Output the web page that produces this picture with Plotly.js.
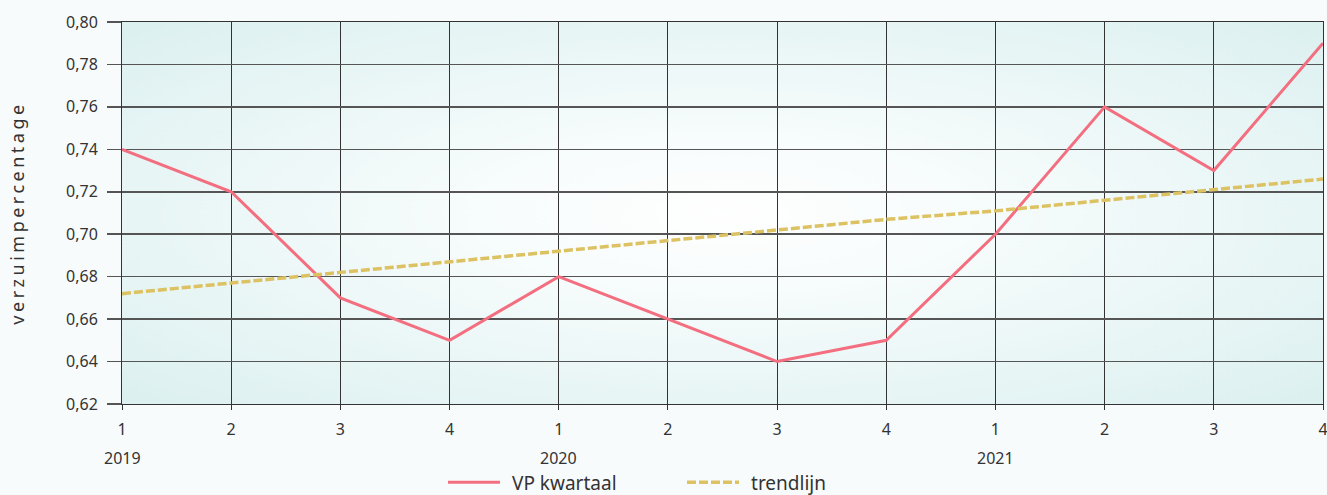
<!DOCTYPE html>
<html>
<head>
<meta charset="utf-8">
<script src="https://cdn.plot.ly/plotly-3.0.1.min.js"></script>
<style>
  html, body { margin: 0; padding: 0; background: #f8fbfc; }
  #chart { width: 1327px; height: 495px; }
  .ytitle { letter-spacing: 3.5px; }
</style>
</head>
<body>
<div id="chart"></div>
<script>
// ---- data ----
const quarters = ["1","2","3","4","1","2","3","4","1","2","3","4"];
const years = ["2019", "2020", "2021"];
const yearTickIndex = [0, 4, 8];
const vpKwartaal = [0.74, 0.72, 0.67, 0.65, 0.68, 0.66, 0.64, 0.65, 0.70, 0.76, 0.73, 0.79];
const trendlijn = [0.672, 0.677, 0.682, 0.687, 0.692, 0.697, 0.702, 0.707, 0.711, 0.716, 0.721, 0.726];
const seriesNames = ["VP kwartaal", "trendlijn"];
const yTitle = "verzuimpercentage";

const xIdx = quarters.map((_, i) => i);

// radial gradient background image for plot area
function gradientImage() {
  const c = document.createElement('canvas');
  c.width = 400; c.height = 400;
  const ctx = c.getContext('2d');
  const g = ctx.createRadialGradient(200, 200, 0, 200, 200, 283);
  g.addColorStop(0, '#ffffff');
  g.addColorStop(0.3, '#f7fcfc');
  g.addColorStop(1, '#dcf0f0');
  ctx.fillStyle = g;
  ctx.fillRect(0, 0, 400, 400);
  return c.toDataURL('image/png');
}

const font = "Noto Sans, Open Sans, sans-serif";

const traces = [
  {
    x: xIdx, y: vpKwartaal, name: seriesNames[0], type: 'scatter', mode: 'lines',
    line: { color: '#f36f80', width: 3 }
  },
  {
    x: xIdx, y: trendlijn, name: seriesNames[1], type: 'scatter', mode: 'lines',
    line: { color: '#dcc262', width: 3.5, dash: '9px,3px' }
  }
];

const annotations = years.map((yr, i) => ({
  x: yearTickIndex[i], xref: 'x', y: 0, yref: 'paper',
  yanchor: 'middle', yshift: -54, text: yr, showarrow: false,
  font: { family: font, size: 16, color: '#333' }
}));

const layout = {
  width: 1327, height: 495,
  margin: { l: 122, r: 4, t: 22, b: 91, autoexpand: false },
  paper_bgcolor: '#f8fbfc',
  plot_bgcolor: 'rgba(0,0,0,0)',
  separators: ', ',
  font: { family: font, color: '#333' },
  showlegend: true,
  legend: {
    orientation: 'h', x: 0.2673, xanchor: 'left', y: -0.205, yanchor: 'middle',
    itemwidth: 59, entrywidth: 165, entrywidthmode: 'pixels',
    font: { family: font, size: 19, color: '#333' }, bgcolor: 'rgba(0,0,0,0)'
  },
  images: [{
    source: gradientImage(), xref: 'paper', yref: 'paper', x: 0, y: 1,
    sizex: 1, sizey: 1, sizing: 'stretch', layer: 'below', xanchor: 'left', yanchor: 'top'
  }],
  xaxis: {
    range: [0, 11], tickmode: 'array', tickvals: xIdx, ticktext: quarters,
    showgrid: true, gridcolor: '#333', gridwidth: 1,
    ticks: 'outside', ticklen: 5, tickcolor: '#333', tickwidth: 1,
    showline: true, linecolor: '#333', linewidth: 1, mirror: true,
    zeroline: false, ticklabelstandoff: 6, ticklabeloverflow: 'allow',
    tickfont: { family: font, size: 16, color: '#333' }
  },
  yaxis: {
    range: [0.62, 0.80], dtick: 0.02, tick0: 0.62, tickformat: '.2f',
    showgrid: true, gridcolor: '#555', gridwidth: 1.5,
    ticks: 'outside', ticklen: 14, tickcolor: '#555', tickwidth: 1.5,
    showline: true, linecolor: '#333', linewidth: 1, mirror: true,
    zeroline: false, ticklabelstandoff: 6,
    tickfont: { family: font, size: 16, color: '#333' },
    title: { text: yTitle, standoff: 36, font: { family: font, size: 18, color: '#333' } }
  },
  annotations: annotations
};

Plotly.newPlot('chart', traces, layout, { displayModeBar: false, staticPlot: true }).then(gd => {
  // longer legend line samples, as in the reference
  gd.querySelectorAll('.legend .legendlines path').forEach(p => p.setAttribute('d', 'M5,0h52'));
});
</script>
</body>
</html>
